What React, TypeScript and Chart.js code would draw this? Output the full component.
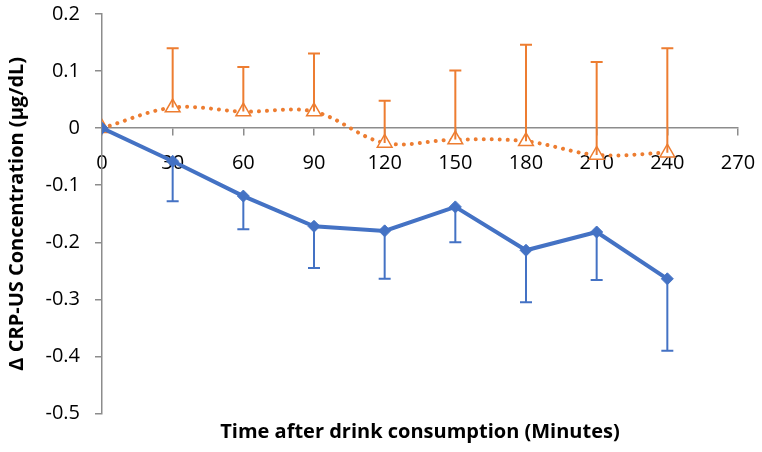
import React, { useEffect, useRef } from 'react';
import { Chart, registerables } from 'chart.js';

Chart.register(...registerables);

// ---- data ----
const minutes = [0, 30, 60, 90, 120, 150, 180, 210, 240];
const blueValues = [0, -0.058, -0.119, -0.172, -0.18, -0.138, -0.214, -0.182, -0.264];
const blueErrDown = [0, 0.07, 0.058, 0.073, 0.084, 0.062, 0.091, 0.084, 0.126];
const orangeValues = [0, 0.036, 0.029, 0.029, -0.026, -0.02, -0.023, -0.047, -0.043];
const orangeErrUp = [0, 0.104, 0.078, 0.102, 0.074, 0.121, 0.169, 0.163, 0.183];
const xTickValues = [0, 30, 60, 90, 120, 150, 180, 210, 240, 270];
const yTickValues = [0.2, 0.1, 0, -0.1, -0.2, -0.3, -0.4, -0.5];
const xTitle = 'Time after drink consumption (Minutes)';
const yTitle = 'Δ CRP-US Concentration (µg/dL)';

const BLUE = '#4472C4';
const ORANGE = '#ED7D31';
const AXIS = '#8c8c8c';
const FONT = '"Open Sans", "DejaVu Sans", sans-serif';

const errorBarPlugin = {
  id: 'errorBars',
  afterDatasetsDraw(chart: any) {
    const { ctx } = chart;
    const xs = chart.scales.x;
    const ys = chart.scales.y;
    const draw = (vals: number[], errs: number[], dir: number, color: string) => {
      ctx.save();
      ctx.strokeStyle = color;
      ctx.lineWidth = 2;
      vals.forEach((v, i) => {
        if (!errs[i]) return;
        const px = xs.getPixelForValue(minutes[i]);
        const p0 = ys.getPixelForValue(v);
        const p1 = ys.getPixelForValue(v + dir * errs[i]);
        ctx.beginPath();
        ctx.moveTo(px, p0);
        ctx.lineTo(px, p1);
        ctx.moveTo(px - 6, p1);
        ctx.lineTo(px + 6, p1);
        ctx.stroke();
      });
      ctx.restore();
    };
    draw(orangeValues, orangeErrUp, 1, ORANGE);
    draw(blueValues, blueErrDown, -1, BLUE);
  },
};

const titlesPlugin = {
  id: 'axisTitles',
  afterDraw(chart: any) {
    const { ctx, chartArea } = chart;
    ctx.save();
    ctx.fillStyle = '#000';
    ctx.font = `bold 20px ${FONT}`;
    ctx.textAlign = 'center';
    ctx.textBaseline = 'middle';
    ctx.fillText(xTitle, (chartArea.left + chartArea.right) / 2, 432);
    ctx.translate(17, (chartArea.top + chartArea.bottom) / 2);
    ctx.rotate(-Math.PI / 2);
    ctx.fillText(yTitle, 0, 0);
    ctx.restore();
  },
};

export default function App() {
  const ref = useRef<HTMLCanvasElement>(null);
  useEffect(() => {
    if (!ref.current) return;
    const chart = new Chart(ref.current, {
      type: 'line',
      data: {
        datasets: [
          {
            label: 'Blue',
            data: minutes.map((m, i) => ({ x: m, y: blueValues[i] })),
            borderColor: BLUE,
            backgroundColor: BLUE,
            borderWidth: 4,
            pointStyle: 'rectRot',
            pointRadius: 6,
            pointBorderWidth: 1,
            tension: 0,
            order: 0,
          },
          {
            label: 'Orange',
            data: minutes.map((m, i) => ({ x: m, y: orangeValues[i] })),
            borderColor: ORANGE,
            backgroundColor: '#ffffff',
            borderWidth: 4,
            borderDash: [0.01, 8],
            borderCapStyle: 'round',
            pointStyle: 'triangle',
            pointRadius: 8.5,
            pointBorderWidth: 1.5,
            pointBorderColor: ORANGE,
            pointBackgroundColor: '#ffffff',
            tension: 0.35,
            order: 1,
          },
        ],
      },
      options: {
        animation: false,
        responsive: false,
        devicePixelRatio: 1,
        layout: { padding: { top: 14, right: 24, bottom: 38.5, left: 0 } },
        plugins: {
          legend: { display: false },
          tooltip: { enabled: false },
          title: { display: false },
        },
        scales: {
          x: {
            type: 'linear',
            min: xTickValues[0],
            max: xTickValues[xTickValues.length - 1],
            position: { y: 0 } as any,
            afterBuildTicks: (s: any) => {
              s.ticks = xTickValues.map((v) => ({ value: v }));
            },
            afterFit: (s: any) => {
              s.paddingLeft = 0;
              s.paddingRight = 0;
              s.paddingTop = 0;
              s.paddingBottom = 0;
            },
            ticks: {
              font: { family: FONT, size: 20 },
              color: '#000',
              padding: 16,
              maxRotation: 0,
              autoSkip: false,
              callback: (v: any) => String(v),
            },
            grid: { drawOnChartArea: false, drawTicks: true, tickLength: 7, color: AXIS, lineWidth: 1.5 },
            border: { display: true, color: AXIS, width: 1.5 },
          },
          y: {
            type: 'linear',
            min: yTickValues[yTickValues.length - 1],
            max: yTickValues[0],
            afterFit: (s: any) => {
              s.width = 102;
              s.paddingTop = 0;
              s.paddingBottom = 0;
            },
            afterBuildTicks: (s: any) => {
              s.ticks = yTickValues.map((v) => ({ value: v }));
            },
            ticks: {
              font: { family: FONT, size: 20 },
              color: '#000',
              padding: 15,
              callback: (v: any) => String(Math.round(Number(v) * 10) / 10),
            },
            grid: { drawOnChartArea: false, drawTicks: true, tickLength: 7, color: AXIS, lineWidth: 1.5 },
            border: { display: true, color: AXIS, width: 1.5 },
          },
        },
      },
      plugins: [errorBarPlugin, titlesPlugin],
    } as any);
    return () => chart.destroy();
  }, []);
  return (
    <div style={{ position: 'fixed', left: 0, top: 0, width: 762, height: 452, background: '#fff' }}>
      <canvas ref={ref} width={762} height={452} />
    </div>
  );
}
